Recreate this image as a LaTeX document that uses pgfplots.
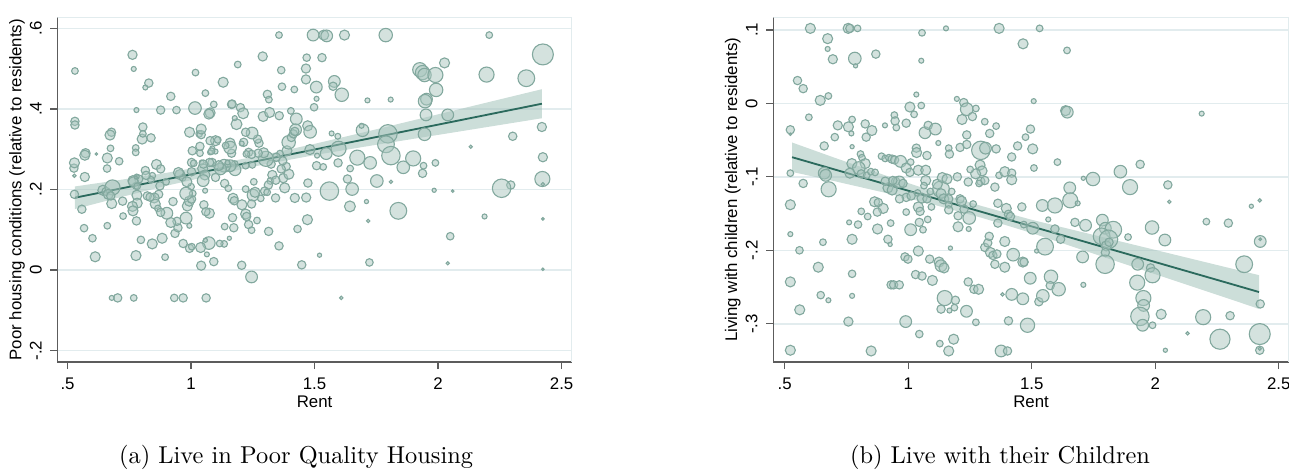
\documentclass[border=0pt]{standalone}
\usepackage{fontspec}
\usepackage{pgfplots}
\usepackage{pgfplotstable}
\pgfplotsset{compat=1.18}
\usepgfplotslibrary{fillbetween}
\newfontfamily\statafont{Liberation Sans}

\definecolor{bubfill}{HTML}{A9C6BE}
\definecolor{bubedge}{HTML}{82A89E}
\definecolor{fitline}{HTML}{2B6A5D}
\definecolor{bandfill}{HTML}{A3C2BA}
\definecolor{gridc}{HTML}{E2ECEE}
\definecolor{spine}{HTML}{5C5C5C}

% Panel (a): poor housing conditions vs rent (x, y, bubble radius)
\pgfplotstableread{
x y r
1.356 0.583 8
1.494 0.583 14
1.537 0.583 12
1.549 0.581 14
1.621 0.583 12
1.788 0.583 16
2.207 0.583 8
0.763 0.534 11
0.768 0.499 6
0.530 0.494 8
1.018 0.490 8
1.290 0.530 11
1.189 0.510 8
1.530 0.527 10
1.468 0.527 9
1.465 0.500 11
1.365 0.496 9
2.026 0.514 12
1.926 0.497 17
1.937 0.490 17
1.945 0.484 16
1.989 0.484 18
2.196 0.485 18
2.357 0.476 20
2.424 0.535 25
1.130 0.466 12
0.829 0.464 10
0.815 0.453 6
1.368 0.455 9
1.465 0.473 11
1.507 0.454 14
1.580 0.468 14
1.575 0.456 10
1.610 0.435 16
1.418 0.448 8
1.058 0.439 8
0.918 0.431 10
1.992 0.447 16
1.953 0.424 14
1.947 0.419 16
1.951 0.385 14
1.714 0.421 6
1.808 0.423 6
1.508 0.425 6
1.498 0.404 9
1.309 0.436 10
1.315 0.423 8
1.092 0.411 8
1.164 0.411 10
1.200 0.403 10
1.211 0.389 13
1.016 0.402 15
1.077 0.390 12
1.072 0.387 12
0.941 0.397 9
0.877 0.397 10
0.779 0.397 6
0.530 0.369 10
0.530 0.360 10
1.292 0.381 12
1.318 0.391 12
1.357 0.383 10
1.404 0.395 8
1.426 0.375 14
1.423 0.348 14
1.472 0.358 12
1.482 0.343 15
2.039 0.385 14
1.694 0.347 15
1.690 0.358 6
1.797 0.338 22
1.789 0.312 20
1.809 0.284 22
1.945 0.337 15
2.420 0.355 11
2.302 0.332 10
2.132 0.306 4
2.424 0.280 11
2.422 0.226 18
2.424 0.213 4
2.294 0.211 10
2.257 0.203 22
2.188 0.133 6
2.424 0.127 3
2.424 0.002 3
2.049 0.084 9
2.039 0.017 4
1.984 0.198 5
2.059 0.196 3
1.989 0.266 8
1.937 0.240 10
1.899 0.277 18
1.859 0.255 15
1.839 0.147 20
1.809 0.219 4
1.752 0.221 15
1.725 0.266 15
1.673 0.279 18
1.652 0.201 15
1.643 0.158 13
1.633 0.226 10
1.644 0.252 8
1.597 0.301 18
1.595 0.266 10
1.560 0.196 22
1.547 0.289 14
1.508 0.259 10
1.535 0.256 8
1.510 0.284 6
1.481 0.299 12
1.473 0.216 10
1.466 0.180 11
1.471 0.125 12
1.520 0.037 5
1.448 0.013 10
1.722 0.019 9
1.717 0.122 4
1.710 0.170 5
1.608 -0.069 4
1.594 0.332 7
1.569 0.339 6
1.431 0.102 9
1.420 0.179 11
1.379 0.204 12
1.373 0.228 11
1.396 0.238 12
1.385 0.257 10
1.388 0.296 12
1.395 0.317 16
1.406 0.329 10
1.414 0.338 10
1.420 0.344 10
1.371 0.271 10
1.360 0.289 8
1.345 0.280 10
1.324 0.263 10
1.329 0.236 11
1.321 0.221 8
1.313 0.211 10
1.303 0.276 18
1.294 0.291 12
1.272 0.290 10
1.275 0.315 10
1.269 0.325 10
1.247 0.340 14
1.221 0.342 10
1.213 0.317 10
1.233 0.292 10
1.245 0.287 10
1.224 0.288 8
1.248 0.261 8
1.221 0.259 8
1.205 0.314 6
1.184 0.362 13
1.177 0.377 6
1.166 0.412 10
1.158 0.315 12
1.164 0.290 10
1.158 0.304 15
1.140 0.309 8
1.177 0.263 8
1.178 0.249 14
1.158 0.259 14
1.134 0.259 15
1.119 0.251 14
1.111 0.259 12
1.099 0.230 10
1.085 0.267 10
1.086 0.302 6
1.099 0.321 12
1.108 0.323 8
1.099 0.294 6
1.148 0.267 6
1.136 0.215 10
1.151 0.203 8
1.170 0.178 12
1.175 0.172 10
1.168 0.130 10
1.173 0.105 10
1.136 0.108 8
1.206 0.162 12
1.221 0.139 12
1.225 0.133 10
1.233 0.113 10
1.245 0.099 8
1.221 0.201 8
1.254 0.219 8
1.251 0.186 14
1.259 0.193 12
1.245 0.164 10
1.267 0.123 8
1.282 0.178 8
1.298 0.196 10
1.314 0.096 10
1.356 0.060 10
1.245 -0.017 14
1.205 0.012 10
1.134 0.065 8
1.116 0.066 8
1.155 0.079 5
1.092 0.021 10
1.064 0.039 6
1.072 0.067 15
1.058 0.074 5
1.041 0.011 11
1.061 -0.069 10
1.039 0.056 12
0.994 0.054 10
1.003 0.058 8
0.968 0.066 10
0.980 0.129 14
0.935 0.091 10
0.947 0.105 10
0.943 0.121 10
0.918 0.118 12
0.902 0.141 14
0.927 0.170 10
0.985 0.159 12
0.993 0.171 12
1.002 0.176 10
1.007 0.190 8
1.000 0.207 8
0.980 0.190 15
0.955 0.237 12
0.966 0.229 8
0.949 0.242 12
0.983 0.219 12
1.002 0.244 10
1.002 0.267 10
1.011 0.265 8
1.005 0.296 10
0.994 0.342 12
1.033 0.338 8
1.041 0.336 10
1.041 0.350 12
1.036 0.290 8
1.036 0.307 10
1.047 0.252 12
1.056 0.236 12
1.049 0.222 14
1.057 0.197 6
1.052 0.162 10
1.074 0.141 12
1.060 0.145 10
1.043 0.267 6
1.077 0.321 10
1.077 0.292 6
1.075 0.267 10
1.050 0.263 10
1.083 0.295 8
0.993 0.110 6
0.899 0.219 8
0.874 0.209 10
0.869 0.188 10
0.851 0.179 12
0.823 0.184 10
0.855 0.164 12
0.866 0.153 8
0.877 0.143 10
0.834 0.181 10
0.860 0.262 12
0.877 0.251 10
0.843 0.234 8
0.838 0.224 8
0.815 0.247 10
0.788 0.226 10
0.802 0.325 12
0.805 0.355 10
0.838 0.328 10
0.805 0.338 8
0.776 0.303 8
0.776 0.292 8
0.765 0.222 12
0.776 0.209 8
0.781 0.186 12
0.782 0.166 12
0.763 0.158 12
0.765 0.147 12
0.779 0.122 10
0.797 0.075 9
0.777 0.036 12
0.843 0.065 12
0.883 0.079 12
0.895 0.032 8
0.932 -0.069 9
0.968 -0.069 10
0.768 -0.069 8
0.703 -0.069 10
0.679 -0.069 6
0.612 0.033 12
0.601 0.079 9
0.567 0.104 9
0.661 0.110 8
0.725 0.134 8
0.558 0.151 10
0.528 0.188 10
0.528 0.234 4
0.570 0.231 11
0.526 0.253 10
0.528 0.266 12
0.573 0.290 11
0.570 0.285 12
0.661 0.278 12
0.660 0.252 9
0.674 0.302 8
0.678 0.342 10
0.672 0.335 12
0.709 0.270 9
0.679 0.165 12
0.643 0.198 12
0.656 0.195 10
0.682 0.205 18
0.665 0.188 12
0.675 0.184 10
0.723 0.171 10
0.766 0.219 12
0.818 0.235 10
0.782 0.208 8
0.780 0.232 6
0.777 0.230 4
0.617 0.288 3
1.365 0.251 10
1.343 0.223 10
1.342 0.179 10
1.308 0.193 8
1.941 0.259 8
}\housing

% Panel (a): linear fit and 95% band
\pgfplotstableread{
x lo fit hi
0.53 0.1515 0.1795 0.2075
0.70 0.1785 0.2005 0.2225
0.90 0.2092 0.2252 0.2412
1.10 0.2368 0.2498 0.2628
1.30 0.2625 0.2745 0.2865
1.50 0.2852 0.2992 0.3132
1.70 0.3059 0.3239 0.3419
1.90 0.3256 0.3486 0.3716
2.10 0.3452 0.3732 0.4012
2.30 0.3649 0.3979 0.4309
2.42 0.3767 0.4127 0.4487
}\housingfit

% Panel (b): living with children vs rent (x, y, bubble radius)
\pgfplotstableread{
x y r
0.604 0.102 12
0.757 0.102 12
0.764 0.102 10
0.795 0.102 8
1.056 0.096 8
1.153 0.102 6
1.368 0.102 12
1.532 0.102 8
0.674 0.088 12
0.674 0.074 6
0.695 0.060 11
0.784 0.061 15
0.787 0.051 5
0.869 0.067 10
1.053 0.058 6
1.465 0.081 12
1.643 0.072 8
0.552 0.031 10
0.575 0.020 10
0.644 0.004 12
0.677 0.010 8
1.033 0.012 6
1.053 -0.003 8
1.007 -0.005 12
1.024 -0.015 8
0.992 -0.027 10
0.944 -0.016 8
0.947 -0.024 10
0.952 -0.033 8
0.906 -0.030 6
0.853 -0.037 12
0.826 -0.028 10
0.830 -0.046 10
0.773 -0.022 8
0.758 -0.032 12
0.770 -0.041 6
0.715 -0.030 11
0.703 -0.046 9
0.598 -0.019 8
0.523 -0.036 10
0.523 -0.042 3
0.660 -0.058 10
0.773 -0.059 5
0.807 -0.069 8
0.813 -0.074 8
0.826 -0.082 12
0.772 -0.082 12
0.800 -0.088 15
0.764 -0.095 12
0.810 -0.096 10
0.832 -0.098 8
0.849 -0.093 8
0.866 -0.094 8
0.660 -0.095 14
0.666 -0.098 14
0.523 -0.095 8
0.575 -0.109 10
0.678 -0.117 18
0.892 -0.072 8
0.907 -0.075 8
0.922 -0.074 8
0.935 -0.076 10
0.945 -0.077 10
0.969 -0.079 14
1.010 -0.080 8
0.992 -0.088 12
1.007 -0.094 10
1.041 -0.091 12
1.071 -0.091 12
1.076 -0.071 10
1.033 -0.061 10
1.034 -0.067 12
1.068 -0.040 14
1.081 -0.030 10
1.110 -0.035 14
1.122 -0.054 6
1.164 -0.061 8
1.167 -0.069 10
1.210 -0.060 10
1.218 -0.022 12
1.225 0.001 10
1.237 -0.008 15
1.197 0.006 6
1.260 -0.018 10
1.274 -0.007 8
1.237 -0.043 10
1.237 -0.056 10
1.310 -0.025 8
1.294 -0.064 22
1.313 -0.061 14
1.330 -0.041 10
1.356 -0.031 8
1.356 -0.062 10
1.291 -0.084 12
1.299 -0.092 12
1.273 -0.096 12
1.251 -0.090 8
1.243 -0.107 10
1.294 -0.106 10
1.310 -0.105 10
1.287 -0.109 8
1.351 -0.114 10
1.368 -0.098 8
1.391 -0.093 12
1.419 -0.095 10
1.419 -0.104 12
1.443 -0.058 10
1.475 -0.046 8
1.495 -0.035 10
1.504 -0.062 12
1.509 -0.088 8
1.419 -0.073 10
1.604 -0.080 8
1.637 -0.010 12
1.644 -0.012 14
1.508 0.003 6
1.199 -0.100 10
1.071 -0.105 12
1.064 -0.112 8
1.090 -0.120 8
1.038 -0.122 8
1.056 -0.129 12
1.076 -0.130 10
0.992 -0.128 10
1.012 -0.126 10
0.949 -0.106 10
0.964 -0.107 14
0.918 -0.115 12
0.935 -0.118 12
0.907 -0.106 10
0.938 -0.105 10
0.979 -0.109 10
0.965 -0.130 10
0.864 -0.134 12
0.879 -0.135 10
0.899 -0.143 12
0.875 -0.148 10
0.810 -0.147 8
0.836 -0.154 8
0.876 -0.171 12
0.929 -0.163 8
0.918 -0.185 10
0.927 -0.192 5
0.992 -0.148 8
1.010 -0.172 14
1.041 -0.141 12
1.048 -0.147 10
1.045 -0.162 10
1.060 -0.172 8
1.079 -0.158 8
1.094 -0.141 8
1.133 -0.117 20
1.118 -0.110 12
1.138 -0.101 12
1.157 -0.103 12
1.133 -0.123 12
1.144 -0.130 12
1.164 -0.130 10
1.176 -0.120 8
1.164 -0.138 8
1.164 -0.145 10
1.210 -0.130 10
1.216 -0.133 12
1.226 -0.144 10
1.247 -0.156 15
1.202 -0.153 10
1.202 -0.168 12
1.245 -0.171 6
1.263 -0.137 8
1.363 -0.136 10
1.397 -0.143 12
1.406 -0.151 10
1.414 -0.154 10
1.363 -0.163 10
1.460 -0.141 10
1.468 -0.165 8
1.504 -0.170 14
1.543 -0.139 14
1.594 -0.139 18
1.567 -0.158 6
1.594 -0.171 10
1.617 -0.185 10
1.554 -0.195 20
1.520 -0.201 5
1.654 -0.115 14
1.656 -0.132 18
1.675 -0.162 10
1.686 -0.136 6
1.709 -0.102 5
1.748 -0.103 16
1.718 -0.166 14
1.706 -0.209 14
1.709 -0.247 6
1.786 -0.159 14
1.798 -0.170 14
1.830 -0.172 20
1.783 -0.181 20
1.811 -0.185 22
1.802 -0.194 12
1.798 -0.203 10
1.797 -0.219 22
1.813 -0.189 10
1.859 -0.093 15
1.898 -0.114 18
1.890 -0.182 8
1.939 -0.083 10
1.987 -0.169 16
2.039 -0.186 14
2.051 -0.111 10
2.057 -0.134 4
1.981 -0.224 10
1.929 -0.219 14
1.989 -0.234 18
1.927 -0.244 18
1.952 -0.265 18
1.953 -0.275 14
1.938 -0.290 22
1.949 -0.302 14
1.989 -0.302 8
2.024 -0.287 12
2.041 -0.336 5
2.131 -0.313 4
2.194 -0.291 18
2.207 -0.161 8
2.188 -0.014 6
2.296 -0.163 10
2.303 -0.289 10
2.262 -0.321 24
2.360 -0.219 20
2.389 -0.140 5
2.423 -0.132 4
2.425 -0.188 14
2.425 -0.185 3
2.425 -0.273 10
2.423 -0.314 25
2.423 -0.336 10
2.423 -0.334 4
0.523 -0.138 12
0.523 -0.178 6
0.560 -0.200 9
0.523 -0.243 12
0.561 -0.281 12
0.523 -0.336 12
0.655 -0.189 8
0.636 -0.223 12
0.646 -0.261 9
0.677 -0.268 6
0.758 -0.297 11
0.773 -0.232 9
0.773 -0.262 6
0.773 -0.185 12
0.761 -0.162 6
0.797 -0.165 9
0.850 -0.337 12
0.931 -0.247 10
0.941 -0.247 10
0.964 -0.247 10
0.987 -0.209 10
0.999 -0.212 10
0.990 -0.297 14
1.030 -0.233 10
1.056 -0.235 10
1.041 -0.201 12
1.045 -0.314 9
1.087 -0.212 10
1.098 -0.241 12
1.125 -0.216 12
1.133 -0.221 14
1.145 -0.224 12
1.128 -0.327 8
1.164 -0.337 12
1.184 -0.321 12
1.148 -0.265 18
1.133 -0.280 10
1.167 -0.282 6
1.187 -0.278 8
1.191 -0.268 10
1.171 -0.197 5
1.236 -0.283 14
1.243 -0.243 10
1.266 -0.253 10
1.285 -0.253 12
1.274 -0.298 8
1.310 -0.196 10
1.322 -0.190 10
1.328 -0.181 10
1.333 -0.203 12
1.343 -0.207 10
1.359 -0.205 10
1.351 -0.219 10
1.391 -0.188 12
1.391 -0.223 12
1.419 -0.260 14
1.406 -0.296 10
1.376 -0.337 14
1.402 -0.337 10
1.425 -0.206 15
1.464 -0.216 12
1.469 -0.216 10
1.464 -0.266 14
1.483 -0.302 17
1.494 -0.238 14
1.529 -0.270 10
1.545 -0.262 15
1.578 -0.236 16
1.575 -0.248 10
1.609 -0.253 16
1.382 -0.260 4
}\children

% Panel (b): linear fit and 95% band
\pgfplotstableread{
x lo fit hi
0.53 -0.0933 -0.0733 -0.0533
0.70 -0.1058 -0.0898 -0.0738
0.90 -0.1212 -0.1092 -0.0972
1.10 -0.1376 -0.1286 -0.1196
1.30 -0.1560 -0.1480 -0.1400
1.50 -0.1765 -0.1675 -0.1585
1.70 -0.1989 -0.1869 -0.1749
1.90 -0.2213 -0.2063 -0.1913
2.10 -0.2437 -0.2257 -0.2077
2.30 -0.2661 -0.2451 -0.2241
2.42 -0.2798 -0.2568 -0.2338
}\childrenfit

\pgfplotsset{
  stata/.style={
    scale only axis, height=141.3pt,
    axis x line*=bottom, axis y line*=left,
    axis line style={spine, line width=0.55pt, -},
    tick align=outside, major tick length=2.9pt,
    tick style={spine, line width=0.55pt},
    ymajorgrids, grid style={gridc, line width=0.6pt},
    tick label style={font=\statafont\fontsize{6.9}{8}\selectfont},
    label style={font=\statafont\fontsize{6.9}{8}\selectfont},
    xtick={0.5,1,1.5,2,2.5}, xticklabels={.5,1,1.5,2,2.5},
    yticklabel style={rotate=90, anchor=south},
    xlabel={Rent},
    xlabel style={at={(axis description cs:0.5,-0.116)}, anchor=center},
    ylabel style={at={(axis description cs:-0.0786,0.5)}, anchor=center, rotate=0},
  },
  % weighted bubbles: radius taken from column r
  bubbles/.style={scatter, only marks, mark=*,
    scatter/use mapped color={draw=bubedge, fill=bubfill},
    visualization depends on={\thisrow{r} \as \rad},
    scatter/@pre marker code/.append style={/tikz/mark size=0.172*\rad},
    mark options={fill opacity=0.5, line width=0.45pt}},
}

\begin{document}
\begin{tikzpicture}

\begin{axis}[stata, at={(23.53pt,44.28pt)}, anchor=south west, width=210.9pt,
  xmin=0.459, xmax=2.541, ymin=-0.228, ymax=0.627,
  ytick={-0.2,0,0.2,0.4,0.6}, yticklabels={-.2,0,.2,.4,.6},
  ylabel={Poor housing conditions (relative to residents)}]
  \addplot[bubbles] table[x=x, y=y] {\housing};
  \addplot[name path=ahi, draw=none] table[x=x, y=hi] {\housingfit};
  \addplot[name path=alo, draw=none] table[x=x, y=lo] {\housingfit};
  \addplot[bandfill, fill opacity=0.55, draw=none] fill between[of=ahi and alo];
  \addplot[fitline, line width=0.75pt] table[x=x, y=fit] {\housingfit};
  \draw[gridc, line width=0.6pt] (rel axis cs:0,1) -- (rel axis cs:1,1) -- (rel axis cs:1,0);
\end{axis}

\begin{axis}[stata, at={(317.05pt,44.28pt)}, anchor=south west, width=211.4pt,
  xmin=0.454, xmax=2.541, ymin=-0.352, ymax=0.117,
  ytick={-0.3,-0.2,-0.1,0,0.1}, yticklabels={-.3,-.2,-.1,0,.1},
  ylabel={Living with children (relative to residents)}]
  \addplot[bubbles] table[x=x, y=y] {\children};
  \addplot[name path=bhi, draw=none] table[x=x, y=hi] {\childrenfit};
  \addplot[name path=blo, draw=none] table[x=x, y=lo] {\childrenfit};
  \addplot[bandfill, fill opacity=0.55, draw=none] fill between[of=bhi and blo];
  \addplot[fitline, line width=0.75pt] table[x=x, y=fit] {\childrenfit};
  \draw[gridc, line width=0.6pt] (rel axis cs:0,1) -- (rel axis cs:1,1) -- (rel axis cs:1,0);
\end{axis}

\node[anchor=base, font=\fontsize{10}{12}\selectfont] at (121.4pt,2.46pt) {(a) Live in Poor Quality Housing};
\node[anchor=base, font=\fontsize{10}{12}\selectfont] at (410pt,2.46pt) {(b) Live with their Children};

% fixed page frame
\pgfresetboundingbox
\useasboundingbox (0,0) rectangle (528.49pt,192.70pt);
\end{tikzpicture}
\end{document}
